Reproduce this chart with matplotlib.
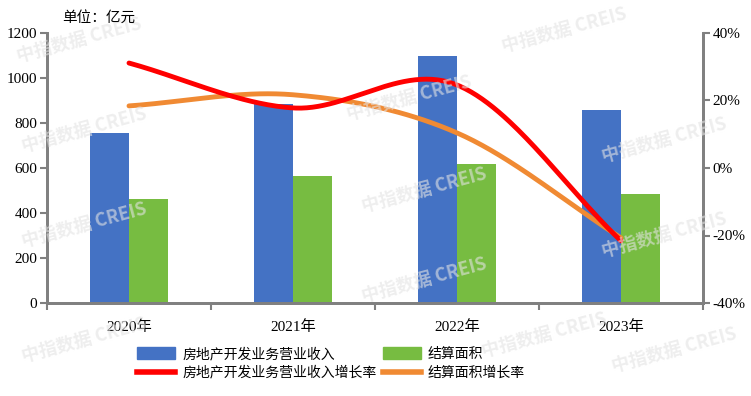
import numpy as np
import matplotlib
matplotlib.use("Agg")
import matplotlib.pyplot as plt
from matplotlib.patches import Rectangle
from matplotlib.lines import Line2D

plt.rcParams['font.family'] = ['Noto Sans CJK SC', 'DejaVu Sans']

years = ['2020年', '2021年', '2022年', '2023年']
revenue = [755, 884, 1098, 858]
area = [462, 564, 618, 484]
revenue_growth = [31.1, 17.8, 24.6, -21.6]
area_growth = [18.4, 21.7, 10.4, -20.7]
left_ticks = [0, 200, 400, 600, 800, 1000, 1200]
right_ticks = [-40, -20, 0, 20, 40]

BLUE = '#4472C4'
GREEN = '#77BC41'
RED = '#FF0000'
ORANGE = '#F08A33'
AXC = '#808080'

def catmull(xs, ys, n=60):
    xs = np.asarray(xs, float); ys = np.asarray(ys, float)
    px = np.concatenate([[2*xs[0]-xs[1]], xs, [2*xs[-1]-xs[-2]]])
    py = np.concatenate([[2*ys[0]-ys[1]], ys, [2*ys[-1]-ys[-2]]])
    ox, oy = [], []
    for i in range(1, len(px)-2):
        t = np.linspace(0, 1, n)
        for P, out in ((px, ox), (py, oy)):
            p0, p1, p2, p3 = P[i-1], P[i], P[i+1], P[i+2]
            out.extend(0.5*((2*p1) + (-p0+p2)*t + (2*p0-5*p1+4*p2-p3)*t**2 + (-p0+3*p1-3*p2+p3)*t**3))
    return np.array(ox), np.array(oy)

fig = plt.figure(figsize=(7.51, 3.96), dpi=100)
ax = fig.add_axes([47/751, 1-303/396, 656/751, 270/396])
ax2 = ax.twinx()

x = np.arange(len(years))
w = 0.24
ax.bar(x - w/2, revenue, w, color=BLUE, zorder=2)
ax.bar(x + w/2, area, w, color=GREEN, zorder=2)
ax.set_xlim(-0.5, len(years)-0.5)
ax.set_ylim(0, 1200)
ax.set_yticks(left_ticks)
ax.set_yticklabels([str(v) for v in left_ticks], family='Liberation Serif', fontsize=11)
ax.set_xticks(x)
ax.set_xticklabels(years, family=['Liberation Serif', 'Noto Sans CJK SC'], fontsize=11)
ax.set_xticks(np.arange(-0.5, len(years)), minor=True)
ax.tick_params(axis='x', which='major', length=0, pad=12)
ax.tick_params(axis='x', which='minor', length=5, width=1.5, color=AXC)
ax.tick_params(axis='y', length=5, width=1.5, color=AXC, pad=2)

sx, sy = catmull(x, revenue_growth)
ax2.plot(sx, sy, color=RED, lw=3.5, zorder=4, solid_capstyle='round')
sx, sy = catmull(x, area_growth)
ax2.plot(sx, sy, color=ORANGE, lw=3.5, zorder=3, solid_capstyle='round')
ax2.set_ylim(-40, 40)
ax2.set_yticks(right_ticks)
ax2.set_yticklabels([f'{v}%' for v in right_ticks], family='Liberation Serif', fontsize=11)
ax2.tick_params(axis='y', length=5, width=1.5, color=AXC, pad=2)

for a in (ax, ax2):
    a.spines['top'].set_visible(False)
    for s in ('left', 'right', 'bottom'):
        a.spines[s].set_color(AXC)
        a.spines[s].set_linewidth(2)

fig.text(62/751, 1-18/396, '单位：亿元', fontsize=10.5, va='center', ha='left')

# watermarks
wm = [(15, 40), (345, 98), (500, 30), (20, 130), (360, 190), (600, 140), (20, 225),
      (360, 280), (600, 235), (20, 340), (480, 335), (610, 350)]
for (px, py) in wm:
    fig.text(px/751, 1-py/396, '中指数据 CREIS', fontsize=13, color='#E3E3E3', alpha=0.6,
             rotation=15, fontweight='bold', ha='left', va='center', zorder=0)

handles = [Rectangle((0, 0), 1, 1, color=BLUE), Rectangle((0, 0), 1, 1, color=GREEN),
           Line2D([0], [0], color=RED, lw=4), Line2D([0], [0], color=ORANGE, lw=4)]
labels = ['房地产开发业务营业收入', '结算面积', '房地产开发业务营业收入增长率', '结算面积增长率']
order = [0, 2, 1, 3]
leg = fig.legend([handles[i] for i in order], [labels[i] for i in order], ncol=2,
                 loc='upper left', bbox_to_anchor=(137/751, 1-347/396), frameon=False,
                 borderpad=0, borderaxespad=0,
                 fontsize=10, handlelength=2.75, handleheight=0.9, columnspacing=0.45,
                 labelspacing=0.35, handletextpad=0.5)

fig.savefig('out.png', dpi=100)
